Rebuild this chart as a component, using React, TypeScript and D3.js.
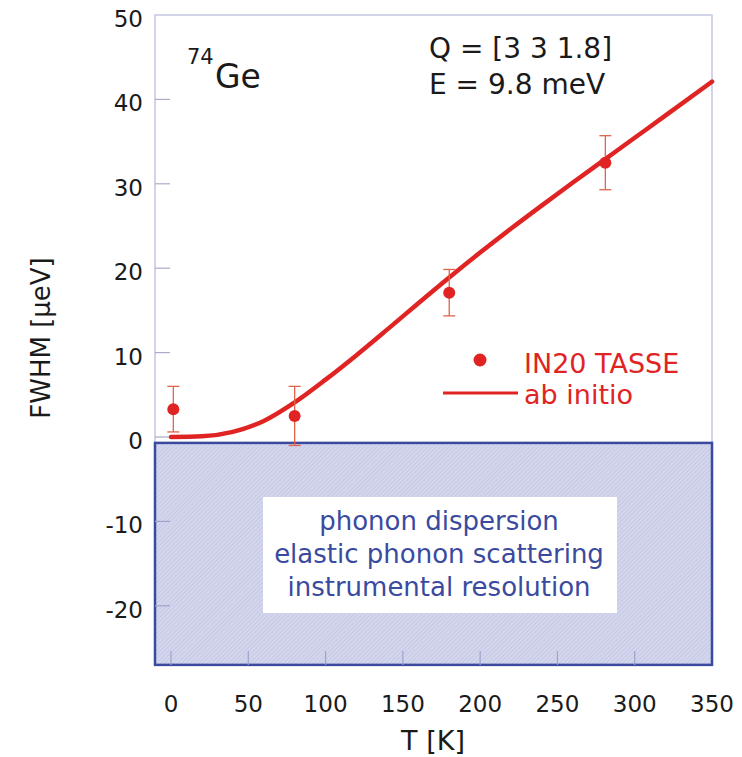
import React from "react";
import * as d3 from "d3";

const W = 742;
const H = 757;

// Data
const expT = [1.5, 80, 180, 281];
const expFWHM = [3.3, 2.5, 17.1, 32.5];
const expErr = [2.7, 3.5, 2.75, 3.2];

const theoryT = [0, 20, 40, 60, 80, 100, 120, 140, 160, 180, 200, 220, 240, 260, 280, 300, 320, 350];
const theoryFWHM = [0, 0.08, 0.6, 1.9, 4.1, 6.8, 9.7, 12.75, 15.85, 18.9, 21.85, 24.7, 27.45, 30.15, 32.8, 35.45, 38.1, 42.1];

const xTicks = [0, 50, 100, 150, 200, 250, 300, 350];
const yTicks = [50, 40, 30, 20, 10, 0, -10, -20];
const boxLines = ["phonon dispersion", "elastic phonon scattering", "instrumental resolution"];
const legendLabels = ["IN20 TASSE", "ab initio"];

const FONT = "'DejaVu Sans', Verdana, sans-serif";
const RED = "#e02424";
const ERR = "#e0644c";
const BLUE = "#3a4a9e";

export default function App() {
  const x = d3.scaleLinear().domain([0, 350]).range([171, 712]);
  const y = d3.scaleLinear().domain([0, 50]).range([437, 15]);

  const left = 155;
  const right = 712;
  const top = 15;
  const shadeTop = y(-0.7);
  const shadeBottom = y(-27);

  const line = d3
    .line<number>()
    .x((_, i) => x(theoryT[i]))
    .y((d) => y(d))
    .curve(d3.curveMonotoneX);

  return (
    <svg
      width={W}
      height={H}
      style={{ position: "absolute", left: 0, top: 0, background: "#fff" }}
      fontFamily={FONT}
    >
      <defs>
        <pattern id="hatch" width="3" height="3" patternUnits="userSpaceOnUse" patternTransform="rotate(45)">
          <rect width="3" height="3" fill="#d4d6ed" />
          <line x1="0" y1="0" x2="0" y2="3" stroke="#bcc0df" strokeWidth="1.2" />
        </pattern>
      </defs>

      {/* upper frame */}
      <rect x={left} y={top} width={right - left} height={shadeTop - top} fill="none" stroke="#c4c7df" strokeWidth={1.5} />

      {/* shaded region */}
      <rect
        x={left}
        y={shadeTop}
        width={right - left}
        height={shadeBottom - shadeTop}
        fill="url(#hatch)"
        stroke={BLUE}
        strokeWidth={2.5}
      />

      {/* y ticks */}
      {yTicks.map((t) => (
        <g key={t}>
          {t !== 50 && (
            <line x1={left} x2={left + 15} y1={y(t)} y2={y(t)} stroke={t < 0 ? "#9ea3cc" : "#a8acc8"} strokeWidth={1.2} />
          )}
          <text x={143} y={y(t) + 4} textAnchor="end" dominantBaseline="central" fontSize={23} fill="#1a1a1a">
            {t}
          </text>
        </g>
      ))}

      {/* x ticks */}
      {xTicks.map((t) => (
        <g key={t}>
          {t < 350 && (
            <line x1={x(t)} x2={x(t)} y1={shadeBottom} y2={shadeBottom - 14} stroke="#9ea3cc" strokeWidth={1.2} />
          )}
          <text x={x(t)} y={712} textAnchor="middle" fontSize={23} fill="#1a1a1a">
            {t}
          </text>
        </g>
      ))}

      {/* axis titles */}
      <text x={433} y={750} textAnchor="middle" fontSize={27} fill="#1a1a1a">
        T [K]
      </text>
      <text
        transform={`translate(41,338) rotate(-90)`}
        textAnchor="middle"
        dominantBaseline="central"
        fontSize={26}
        fill="#1a1a1a"
      >
        FWHM [μeV]
      </text>

      {/* text box in shaded region */}
      <rect x={263} y={497} width={354} height={116} fill="#fff" />
      {boxLines.map((s, i) => (
        <text key={s} x={439} y={530 + i * 33} textAnchor="middle" fontSize={26} fill={BLUE}>
          {s}
        </text>
      ))}

      {/* annotations */}
      <text x={187} y={64} fontSize={21} fill="#1a1a1a">74</text>
      <text x={215} y={88} fontSize={33} fill="#1a1a1a">Ge</text>
      <text x={429} y={58} fontSize={28} fill="#1a1a1a">Q = [3 3 1.8]</text>
      <text x={429} y={94} fontSize={28} fill="#1a1a1a">E = 9.8 meV</text>

      {/* theory line */}
      <path d={line(theoryFWHM) || ""} fill="none" stroke={RED} strokeWidth={4.5} strokeLinecap="round" />

      {/* experimental points */}
      {expT.map((t, i) => {
        const cx = x(t);
        const lo = y(expFWHM[i] - expErr[i]);
        const hi = y(expFWHM[i] + expErr[i]);
        return (
          <g key={t}>
            <line x1={cx} x2={cx} y1={lo} y2={hi} stroke={ERR} strokeWidth={1.3} />
            <line x1={cx - 6} x2={cx + 6} y1={lo} y2={lo} stroke={ERR} strokeWidth={1.3} />
            <line x1={cx - 6} x2={cx + 6} y1={hi} y2={hi} stroke={ERR} strokeWidth={1.3} />
            <circle cx={cx} cy={y(expFWHM[i])} r={6} fill={RED} />
          </g>
        );
      })}

      {/* legend */}
      <circle cx={480} cy={360} r={6.5} fill={RED} />
      <line x1={443} x2={518} y1={393} y2={393} stroke={RED} strokeWidth={3} />
      <text x={524} y={373} fontSize={27} fill={RED}>{legendLabels[0]}</text>
      <text x={524} y={404} fontSize={27} fill={RED}>{legendLabels[1]}</text>
    </svg>
  );
}
